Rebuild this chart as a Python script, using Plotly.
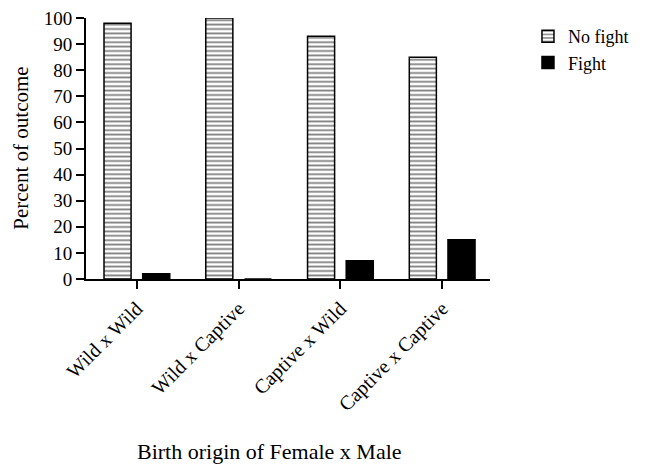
import plotly.graph_objects as go

categories = ["Wild x Wild", "Wild x Captive", "Captive x Wild", "Captive x Captive"]
no_fight = [98, 100, 93, 85]
fight = [2, 0, 7, 15]
y_ticks = [0, 10, 20, 30, 40, 50, 60, 70, 80, 90, 100]

FONT = "Liberation Serif, Times New Roman, serif"

fig = go.Figure()
fig.add_trace(go.Bar(
    x=categories, y=no_fight, name="No fight",
    marker=dict(color="white", line=dict(color="black", width=1.5),
                pattern=dict(shape="-", fgcolor="black", bgcolor="white", size=4.4, solidity=0.4)),
))
fig.add_trace(go.Bar(
    x=categories, y=fight, name="Fight",
    marker=dict(color="black", line=dict(color="black", width=1.5)),
))

fig.update_layout(
    width=646, height=468,
    margin=dict(l=78, r=164, t=10, b=197),
    paper_bgcolor="white", plot_bgcolor="white",
    barmode="group", bargap=0.24, bargroupgap=0.30,
    font=dict(family=FONT, size=20, color="black"),
    showlegend=True,
    legend=dict(x=1.094, y=1.0, xanchor="left", yanchor="top",
                font=dict(family=FONT, size=18, color="black"),
                borderwidth=0, bgcolor="rgba(0,0,0,0)"),
    xaxis=dict(
        showline=True, linecolor="black", linewidth=2,
        ticks="outside", ticklen=8, tickwidth=2, tickcolor="black",
        tickangle=-45, tickfont=dict(family=FONT, size=20),
        range=[-0.5, 3.47], showgrid=False, automargin=False,
        ticklabeloverflow="allow",
    ),
    yaxis=dict(
        range=[0, 100], tickvals=y_ticks,
        showline=True, linecolor="black", linewidth=2,
        ticks="outside", ticklen=8, tickwidth=2, tickcolor="black",
        tickfont=dict(family=FONT, size=19), showgrid=False, zeroline=False,
        automargin=False, ticklabeloverflow="allow",
    ),
    annotations=[
        dict(text="Birth origin of Female x Male", xref="paper", yref="paper",
             x=0.455, y=-0.66, xanchor="center", yanchor="middle", showarrow=False,
             font=dict(family=FONT, size=22, color="black")),
        dict(text="Percent of outcome", xref="paper", yref="paper",
             x=-0.163, y=0.50, xanchor="center", yanchor="middle", showarrow=False,
             textangle=-90, font=dict(family=FONT, size=21, color="black")),
    ],
)

fig.write_html("out.html")
